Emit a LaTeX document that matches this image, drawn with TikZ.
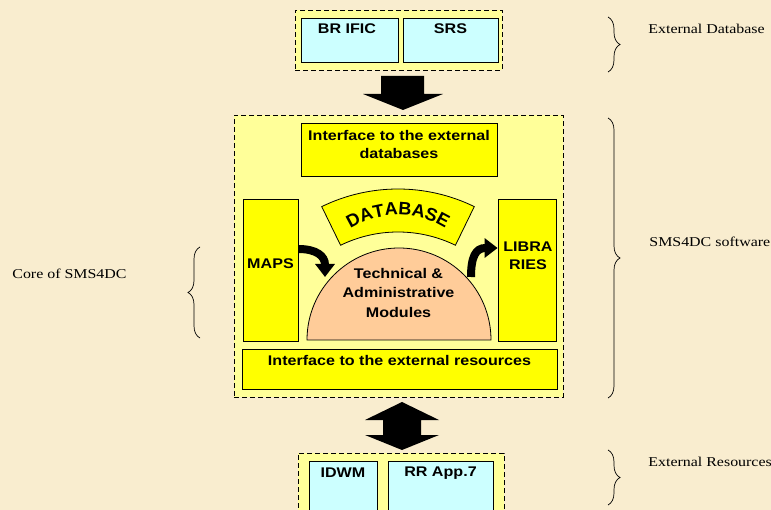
\documentclass[tikz,border=0pt]{standalone}
\usepackage{fontspec}
\setmainfont{Liberation Serif}[FakeStretch=1.18]
\newfontfamily\boxfont{Liberation Sans}[FakeStretch=1.15]
\newfontfamily\dbfont{Liberation Sans}
\usetikzlibrary{arrows.meta,calc,decorations.pathreplacing,decorations.text}
\definecolor{parch}{RGB}{249,237,207}
\definecolor{paleyel}{RGB}{255,255,153}
\definecolor{boxyel}{RGB}{255,255,0}
\definecolor{srccyan}{RGB}{204,255,255}
\definecolor{peach}{RGB}{255,204,153}

\begin{document}
\begin{tikzpicture}[x=1pt,y=1pt,line width=0.8pt,line join=miter,
  panel/.style={draw,fill=paleyel,dash pattern=on 5pt off 3pt,inner sep=0pt},
  srcbox/.style={draw,fill=srccyan,inner sep=0pt},
  modbox/.style={draw,fill=boxyel,inner sep=0pt},
  lbl/.style={font=\boxfont\bfseries\fontsize{14}{18}\selectfont,align=center,inner sep=0pt},
  side/.style={font=\fontsize{13.5}{16}\selectfont,anchor=west,inner sep=0pt},
  bendarr/.style={line width=8pt,-{Triangle[width=19pt,length=13pt]}},
  brc/.style={decorate,decoration={brace,amplitude=12pt},line width=0.7pt}]
\clip (0,0) rectangle (771,-510);
\fill[parch] (0,0) rectangle (771,-510);

% external database
\node[panel,minimum width=207,minimum height=60] (ext) at (398.5,-40) {};
\node[srcbox,minimum width=97,minimum height=44] (bific) at (349.5,-40) {};
\node[srcbox,minimum width=95,minimum height=44] (srs) at (450.5,-40) {};
\node[lbl] (bifict) at (347,-29) {BR IFIC};
\node[lbl] (srst) at (450.5,-29) {SRS};

\fill (381,-76) -- (424,-76) -- (424,-94) -- (443,-94) -- (403,-110)
  -- (363,-94) -- (381,-94) -- cycle;

% SMS4DC software
\node[panel,minimum width=329,minimum height=282] (core) at (398.5,-256) {};
\node[modbox,minimum width=196,minimum height=53] (ifdb) at (399,-149.5) {};
\node[modbox,minimum width=55,minimum height=142] (maps) at (270.5,-270) {};
\node[modbox,minimum width=58,minimum height=142] (libs) at (527,-270) {};
\node[modbox,minimum width=315,minimum height=40] (ifres) at (399.5,-369) {};
\node[lbl] (ifdbt) at (399,-144) {Interface to the external\\databases};
\node[lbl] (mapst) at (270.5,-264) {MAPS};
\node[lbl] (libst) at (528,-256) {LIBRA\\RIES};
\node[lbl] (ifrest) at (399.5,-360) {Interface to the external resources};

\coordinate (arcc) at (398,-363);
\draw[fill=boxyel] ($(arcc)+(116:174)$) arc[start angle=116,end angle=64,radius=174]
  -- ($(arcc)+(64:131)$) arc[start angle=64,end angle=116,radius=131] -- cycle;
\coordinate (txtc) at (398,-304);
\path[decorate,decoration={text along path,text align=center,
  text={|\dbfont\bfseries\fontsize{18}{18}\selectfont|DATABASE}}]
  ($(txtc)+(135:89)$) arc[start angle=135,end angle=45,radius=89];

\coordinate (dome) at (398.5,-340);
\draw[fill=peach] ($(dome)+(-91.5,0)$) arc[start angle=180,end angle=0,radius=92] -- cycle;
\node[lbl,font=\boxfont\bfseries\fontsize{14}{19.5}\selectfont] (modt) at (398.5,-292.5)
  {Technical \&\\Administrative\\Modules};

\coordinate (domeL) at (325,-277);
\coordinate (domeR) at (471,-277);
\draw[bendarr] ([yshift=21pt]maps.east) .. controls +(18,0) and +(0,21) .. (domeL);
\draw[bendarr] (domeR) .. controls +(0,20) and +(-22,0) .. ([yshift=22pt]libs.west);

\fill (402,-402) -- (439,-420) -- (421,-420) -- (421,-435) -- (439,-435) -- (402,-450)
  -- (365,-435) -- (383,-435) -- (383,-420) -- (365,-420) -- cycle;

% external resources
\node[panel,minimum width=206,minimum height=74] (res) at (401,-490) {};
\node[srcbox,minimum width=68,minimum height=54] (idwm) at (343,-488) {};
\node[srcbox,minimum width=105,minimum height=54] (rrapp) at (440.5,-488) {};
\node[lbl] (idwmt) at (343,-473) {IDWM};
\node[lbl] (rrappt) at (440.5,-473) {RR App.7};

% braces and side labels
\draw[brc] (608,-17) -- (608,-72);
\draw[brc] (608,-118) -- (608,-398);
\draw[brc] (608,-450) -- (608,-505);
\draw[brc] (200,-338) -- (200,-247);
\node[side] (extdb) at (648,-29) {External Database};
\node[side] (swlbl) at (649,-242) {SMS4DC software};
\node[side] (extres) at (648,-462) {External Resources};
\node[side] (corelbl) at (12,-274) {Core of SMS4DC};
\end{tikzpicture}
\end{document}
